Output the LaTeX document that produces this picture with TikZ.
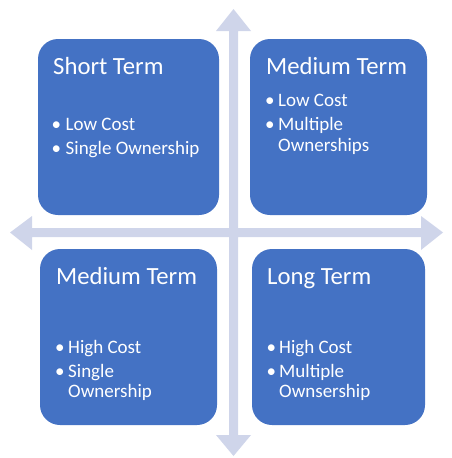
\documentclass[tikz,border=0pt]{standalone}
\usepackage{fontspec}
\setmainfont{Carlito}
\definecolor{boxblue}{HTML}{4472C4}
\definecolor{axisgray}{HTML}{CFD5EA}
\begin{document}
\begin{tikzpicture}[x=1pt,y=-1pt,
  quad/.style={fill=boxblue, rounded corners=20pt},
  ttl/.style={anchor=base west, text=white, inner sep=0pt, font=\fontsize{24.7}{28}\selectfont},
  bul/.style={anchor=base west, text=white, inner sep=0pt, font=\fontsize{19}{22}\selectfont},
  dot/.style={anchor=base west, text=white, inner sep=0pt, font=\fontsize{19}{22}\selectfont}]
\useasboundingbox (0,0) rectangle (452,458);
% axes
\fill[axisgray] (233.5,9) -- (251,31) -- (238,31) -- (238,228) -- (421,228) -- (421,216) -- (443,232.5)
  -- (421,250) -- (421,237) -- (238,237) -- (238,435) -- (251,435) -- (233.5,456) -- (216,435) -- (229,435)
  -- (229,237) -- (32,237) -- (32,250) -- (10,232.5) -- (32,216) -- (32,228) -- (229,228) -- (229,31) -- (216,31) -- cycle;
% boxes
\fill[quad] (38,39) rectangle (219,215);
\fill[quad] (250,39) rectangle (427,215);
\fill[quad] (40,249) rectangle (217,425);
\fill[quad] (252,249) rectangle (425,425);
% top-left
\node[ttl] (t1) at (53,74) {Short Term};
\node[dot] (d1a) at (51.5,130) {•};
\node[bul] (b1a) at (65.5,130) {Low Cost};
\node[dot] (d1b) at (51.5,154) {•};
\node[bul] (b1b) at (65.5,154) {Single Ownership};
% top-right
\node[ttl] (t2) at (266,74) {Medium Term};
\node[dot] (d2a) at (265,106) {•};
\node[bul] (b2a) at (278,106) {Low Cost};
\node[dot] (d2b) at (265,130) {•};
\node[bul] (b2b) at (278,130) {Multiple};
\node[bul] (b2c) at (278,151) {Ownerships};
% bottom-left
\node[ttl] (t3) at (56,284) {Medium Term};
\node[dot] (d3a) at (55,353) {•};
\node[bul] (b3a) at (68,353) {High Cost};
\node[dot] (d3b) at (55,377) {•};
\node[bul] (b3b) at (68,377) {Single};
\node[bul] (b3c) at (68,397) {Ownership};
% bottom-right
\node[ttl] (t4) at (267,284) {Long Term};
\node[dot] (d4a) at (266.5,353) {•};
\node[bul] (b4a) at (279,353) {High Cost};
\node[dot] (d4b) at (266.5,377) {•};
\node[bul] (b4b) at (279,377) {Multiple};
\node[bul] (b4c) at (279,397) {Ownsership};
\end{tikzpicture}
\end{document}
